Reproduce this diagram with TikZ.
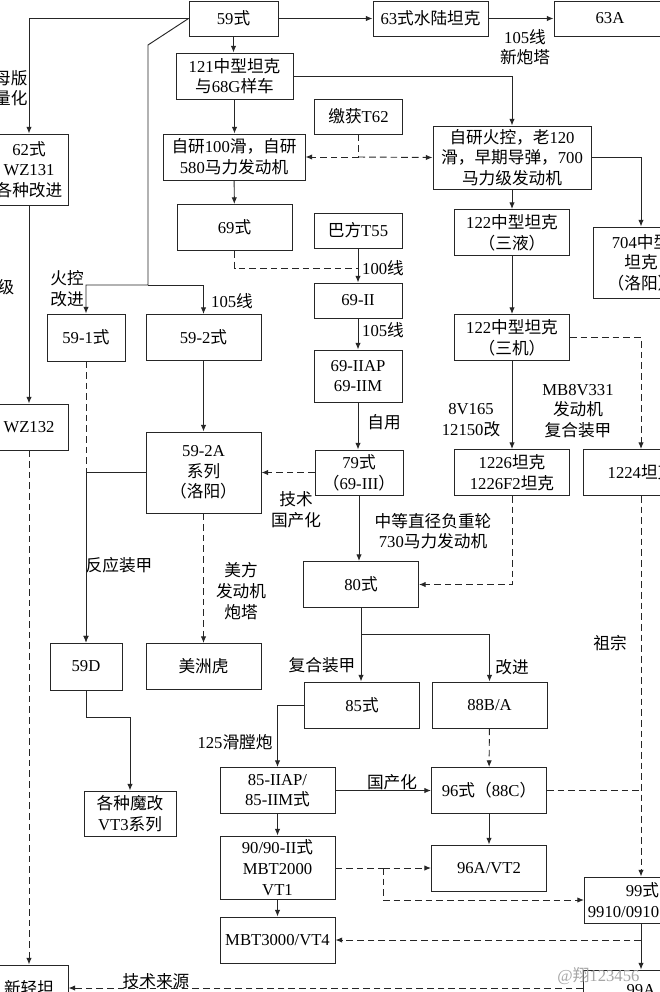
\documentclass[tikz,border=0pt]{standalone}
\usepackage{fontspec}
\setmainfont{Liberation Serif}
\newfontfamily\cjk{Noto Sans CJK SC}
\usetikzlibrary{arrows.meta}
\XeTeXinterchartokenstate=1
\newXeTeXintercharclass\cjkclass
\newcount\cjkc
\cjkc="3000
\loop\XeTeXcharclass\cjkc=\cjkclass\advance\cjkc by 1 \ifnum\cjkc<"A000 \repeat
\cjkc="FF00
\loop\XeTeXcharclass\cjkc=\cjkclass\advance\cjkc by 1 \ifnum\cjkc<"FFF0 \repeat
\XeTeXinterchartoks 0 \cjkclass = {\cjk}
\XeTeXinterchartoks 4095 \cjkclass = {\cjk}
\XeTeXinterchartoks \cjkclass 0 = {\rmfamily}
\XeTeXinterchartoks 4095 0 = {\rmfamily}
\begin{document}
\begin{tikzpicture}[x=0.75pt, y=-0.75pt, line width=0.7pt, draw=black!85,
    >={Latex[length=5pt,width=4pt]},
    font=\fontsize{12.5}{15.5}\selectfont,
    box/.style={draw=black!85, fill=white, align=center, inner sep=2pt},
    std/.style={box, minimum width=86.25pt, minimum height=34.5pt},
    small/.style={box, minimum width=66pt, minimum height=26.25pt},
    lbl/.style={align=center, inner sep=0pt},
    weak/.style={dash pattern=on 5pt off 3pt}]
  \useasboundingbox (0,0) rectangle (660,992);
  \fill[white] (0,0) rectangle (660,992);
  \clip (0,0) rectangle (660,992);
  \node[box, minimum width=66.75pt, minimum height=26.25pt] (n59) at (233.5,18.5) {59式};
  \node[box, minimum width=86.25pt, minimum height=26.25pt] (n63) at (430.5,18.5) {63式水陆坦克};
  \node[box, minimum width=84pt, minimum height=26.25pt] (n63A) at (610,18.5) {63A};
  \node[box, minimum width=87.75pt, minimum height=34.5pt] (n121) at (234.5,76) {121中型坦克\\与68G样车};
  \node[box, minimum width=106.5pt, minimum height=34.5pt] (n100) at (234,157) {自研100滑，自研\\580马力发动机};
  \node[box, minimum width=58.5pt, minimum height=53.25pt] (n62) at (29,169.5) {62式\\WZ131\\各种改进};
  \node[small] (nT62) at (358.5,116.5) {缴获T62};
  \node[box, minimum width=118.5pt, minimum height=47.25pt] (nfc) at (512,157.5) {自研火控，老120\\滑，早期导弹，700\\马力级发动机};
  \node[std] (n69) at (234.5,227.5) {69式};
  \node[small] (nT55) at (358,230.5) {巴方T55};
  \node[std] (n122a) at (512,232.5) {122中型坦克\\（三液）};
  \node[box, minimum width=72pt, minimum height=53.25pt] (n704) at (641,262.5) {704中型\\坦克\\（洛阳）};
  \node[box, minimum width=58.5pt, minimum height=35.25pt] (n591) at (86,337.5) {59-1式};
  \node[std] (n592) at (203.5,337.5) {59-2式};
  \node[small] (n692) at (358,300.5) {69-II};
  \node[small, minimum height=39pt] (n692ap) at (358,376) {69-IIAP\\69-IIM};
  \node[std] (n122b) at (512,337.5) {122中型坦克\\（三机）};
  \node[box, minimum width=58.5pt, minimum height=34.5pt] (nWZ132) at (29,427) {WZ132};
  \node[std, minimum height=60.75pt] (n592A) at (203.5,472.5) {59-2A\\系列\\（洛阳）};
  \node[small, minimum height=33.75pt] (n79) at (359,472.5) {79式\\（69-III）};
  \node[std] (n1226) at (512,472.5) {1226坦克\\1226F2坦克};
  \node[std] (n1224) at (641,472.5) {1224坦克};
  \node[std] (n80) at (361,584.5) {80式};
  \node[box, minimum width=54pt, minimum height=35.25pt] (n59D) at (86,666.5) {59D};
  \node[std] (njag) at (203.5,666.5) {美洲虎};
  \node[std] (n85) at (362,705) {85式};
  \node[std] (n88) at (489.5,705) {88B/A};
  \node[std] (n852) at (277.5,790.5) {85-IIAP/\\85-IIM式};
  \node[std] (n96) at (489,790.5) {96式（88C）};
  \node[box, minimum width=69pt, minimum height=33.75pt] (nvt3) at (130,813.5) {各种魔改\\VT3系列};
  \node[std, minimum height=47.25pt] (n90) at (277.5,867.5) {90/90-II式\\MBT2000\\VT1};
  \node[std] (n96A) at (489,868) {96A/VT2};
  \node[box, anchor=west, text width=54pt, align=right, inner xsep=2pt, minimum height=34.5pt] (n99) at (584,900) {99式\\9910/0910};
  \node[std] (nmbt3) at (277.5,940) {MBT3000/VT4};
  \node[std, minimum height=30pt] (n99A) at (641,990) {99A};
  \node[box, minimum width=58.5pt, minimum height=34.5pt] (nnew) at (29,988) {新轻坦};

  \node[lbl] (l105t) at (525,47) {105线\\新炮塔};
  \node[lbl, anchor=east, align=right] (lmb) at (28,88) {母版\\量化};
  \node[lbl] (lji) at (6,287) {级};
  \node[lbl] (lfk) at (67,289) {火控\\改进};
  \node[lbl] (l105a) at (232,301) {105线};
  \node[lbl] (l100) at (383,268) {100线};
  \node[lbl] (l105b) at (383,330) {105线};
  \node[lbl] (lzy) at (384,422) {自用};
  \node[lbl] (ljs) at (296,510) {技术\\国产化};
  \node[lbl] (lzd) at (433,531) {中等直径负重轮\\730马力发动机};
  \node[lbl] (l8v) at (471,420) {8V165\\12150改};
  \node[lbl] (lmb8) at (578,411) {MB8V331\\发动机\\复合装甲};
  \node[lbl] (lzz) at (610,643) {祖宗};
  \node[lbl] (lfy) at (119,565) {反应装甲};
  \node[lbl] (lmf) at (241,591) {美方\\发动机\\炮塔};
  \node[lbl] (lfh) at (322,665) {复合装甲};
  \node[lbl] (lgj) at (512,667) {改进};
  \node[lbl] (l125) at (235,742) {125滑膛炮};
  \node[lbl] (lgc) at (392,782) {国产化};
  \node[lbl] (ljl) at (156,981) {技术来源};
  \node[lbl, anchor=west, text=black!35] (lwm) at (557,976) {@翔123456};

  \coordinate (j59) at (148,285);
  \coordinate (jT62) at (358.5,157);
  \coordinate (j55) at (358,268);
  \coordinate (j80) at (361,634);
  \coordinate (j90) at (383,868);
  \coordinate (j99) at (641,940);
  \coordinate (jD) at (86,717);
  \begin{scope}[->]
    \draw (n59) to (n63);
    \draw (n63) to (n63A);
    \draw (n59.south) to (n59.south |- n121.north);
    \draw (n59.west) -| (n62.north);
    \draw (n59.west) -- (148,45) -- (j59) -| (n591.north);
    \draw (j59) -| (n592.north);
    \draw (n121.south) to (n121.south |- n100.north);
    \draw (n121.east) -| (nfc.north);
    \draw (n100) to (n69);
    \draw (nT55) to (n692);
    \draw (n692) to (n692ap);
    \draw (n692ap.south) to (n692ap.south |- n79.north);
    \draw (n79.south) to (n79.south |- n80.north);
    \draw (nfc) to (n122a);
    \draw (nfc.east) -| (n704.north);
    \draw (n122a) to (n122b);
    \draw (n122b) to (n1226);
    \draw (n62) to (nWZ132);
    \draw (n592) to (n592A);
    \draw (n592A.west) -| (n59D.north);
    \draw (n59D.south) -- (jD) -| (nvt3.north);
    \draw (n80.south) -- (j80) -| (n88.north);
    \draw (j80) to (j80 |- n85.north);
    \draw (n85.west) -| (n852.north);
    \draw (n852) to (n96);
    \draw (n852) to (n90);
    \draw (n96) to (n96A);
    \draw (n90) to (nmbt3);
    \draw (n99A.north |- n99.south) to (n99A.north);
  \end{scope}
  \begin{scope}[->, weak]
    \draw (jT62) to (n100.east);
    \draw (jT62) to (nfc.west);
    \draw (n79) to (n592A);
    \draw (n122b.east) -| (n1224.north);
    \draw (n1226.south) |- (n80.east);
    \draw (n1224.south) to (n1224.south |- n99.north);
    \draw (n88) to (n96);
    \draw (j90) to (n96A.west |- j90);
    \draw (j90) |- (n99.west);
    \draw (j99) to (nmbt3.east);
    \draw (n99A.west |- nnew.east) to (nnew.east);
    \draw (nWZ132) to (nnew);
    \draw (n591.south) to (n591.south |- n59D.north);
    \draw (n592A) to (njag);
  \end{scope}
  \begin{scope}[weak]
    \draw (nT62) to (jT62);
    \draw (n69.south) |- (j55);
    \draw (n96.east) to (n96.east -| n1224);
    \draw (n90.east |- j90) to (j90);
  \end{scope}
\end{tikzpicture}
\end{document}
